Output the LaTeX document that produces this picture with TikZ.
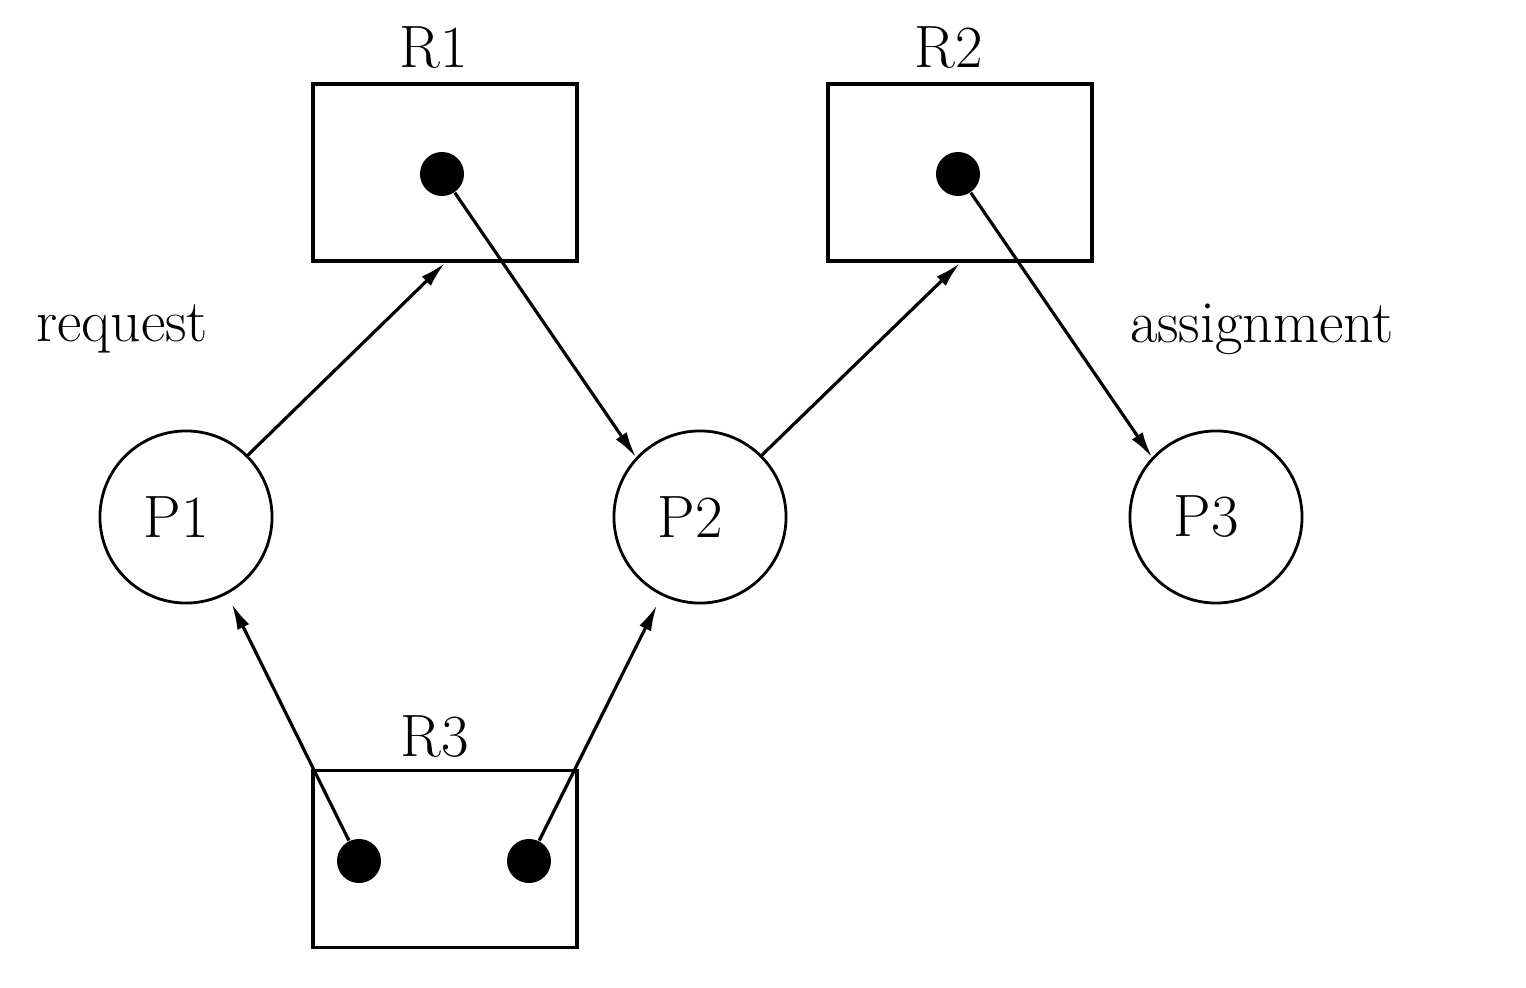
\documentclass[tikz,border=0pt]{standalone}
\usetikzlibrary{arrows.meta}
\begin{document}
\begin{tikzpicture}[x=0.01cm,y=-0.01cm,
  every node/.style={font=\fontsize{17}{20}\selectfont},
  resbox/.style={draw,line width=1.1pt,rectangle,minimum width=2.64cm,minimum height=1.77cm,inner sep=0pt},
  proc/.style={draw,line width=0.8pt,circle,minimum size=1.72cm,inner sep=0pt},
  inst/.style={fill=black,circle,minimum size=0.44cm,inner sep=0pt},
  edge/.style={line width=0.9pt,-{Latex[length=0.26cm,width=0.13cm]}},
  lbl/.style={inner sep=0pt}]
\useasboundingbox (0,0) rectangle (1526,988);
% resources
\node[resbox] (R1) at (445,172.5) {};
\node[resbox] (R2) at (960,172.5) {};
\node[resbox] (R3) at (445,859) {};
\node[lbl] (R1l) at (434,48) {R1};
\node[lbl] (R2l) at (949,48) {R2};
\node[lbl] (R3l) at (435,737) {R3};
% instances
\node[inst] (r1a) at (442,174) {};
\node[inst] (r2a) at (958,174) {};
\node[inst] (r3a) at (359,861) {};
\node[inst] (r3b) at (529,861) {};
% processes
\node[proc] (P1) at (186,517) {\kern-0.2cm P1};
\node[proc] (P2) at (700,517) {\kern-0.2cm P2};
\node[proc] (P3) at (1216,517) {\kern-0.2cm P3};
% labels
\node[lbl] (req) at (122,329) {request};
\node[lbl] (asg) at (1262,329) {assignment};
% edges
\draw[edge] (P1.45) -- (R1.south);
\draw[edge] (r1a) -- (P2.137);
\draw[edge] (P2.45) -- (R2.south);
\draw[edge] (r2a) -- (P3.137);
\draw[edge,shorten >=3pt] (r3a) -- (P1.-62);
\draw[edge,shorten >=3pt] (r3b) -- (P2.-116);
\end{tikzpicture}
\end{document}
